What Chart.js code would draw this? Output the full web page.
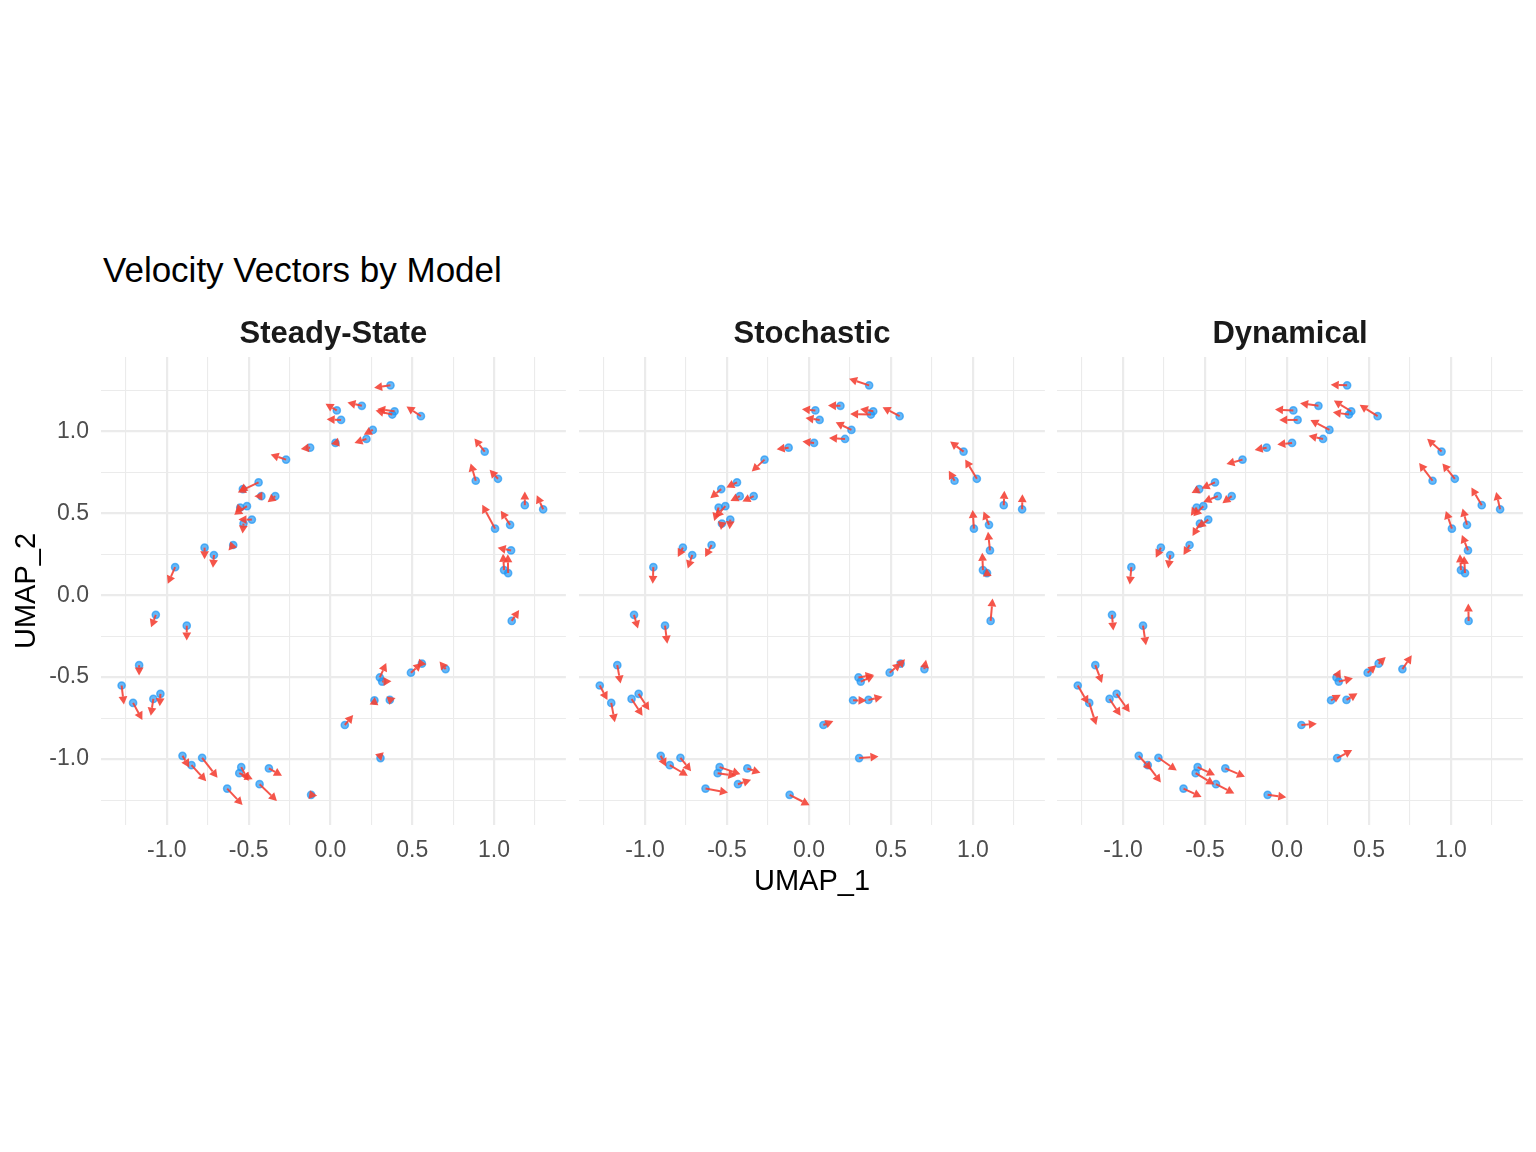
<!DOCTYPE html>
<html>
<head>
<meta charset="utf-8">
<script src="https://cdn.jsdelivr.net/npm/chart.js@4.4.1/dist/chart.umd.min.js"></script>
<style>
  body { margin: 0; background: #fff; width: 1536px; height: 1152px; position: relative; overflow: hidden;
         font-family: "Liberation Sans", Arial, Helvetica, sans-serif; }
  .panel { position: absolute; top: 300px; height: 602px; }
  #title { position: absolute; left: 103px; top: 249px; font-size: 35px; line-height: 42px; color: #000; white-space: nowrap; }
</style>
</head>
<body>
<div id="title">Velocity Vectors by Model</div>
<div class="panel" style="left:0px;width:571px"><canvas id="c0" width="571" height="602"></canvas></div>
<div class="panel" style="left:574px;width:476px"><canvas id="c1" width="476" height="602"></canvas></div>
<div class="panel" style="left:1052px;width:476px"><canvas id="c2" width="476" height="602"></canvas></div>
<script>
const FONT = '"Liberation Sans", Arial, Helvetica, sans-serif';

const models = ["Steady-State", "Stochastic", "Dynamical"];

// cell positions (same in every facet)
const umap1 = [0.367, 0.192, 0.039, 0.065, 0.392, 0.378, 0.553, 0.259, 0.220, 0.031, -0.124, -0.271, -0.439, -0.535, -0.422, -0.337, -0.510, -0.551, -0.480, -0.531, -0.594, -0.769, -0.712, -0.949, 0.943, 0.888, 1.024, 1.188, 1.300, 1.006, 1.098, 1.104, 1.061, 1.086,
  -1.067, -0.878, -1.169, -1.276, -1.206, -1.082, -1.039, -0.904, -0.849, -0.784, -0.545, -0.557, -0.376, -0.631, -0.433, -0.118, 1.108, 0.088, 0.269, 0.363, 0.306, 0.302, 0.316, 0.492, 0.559, 0.704];
const umap2 = [1.280, 1.155, 1.127, 1.069, 1.122, 1.102, 1.092, 1.008, 0.953, 0.929, 0.900, 0.827, 0.688, 0.647, 0.604, 0.604, 0.543, 0.535, 0.461, 0.437, 0.306, 0.290, 0.245, 0.171, 0.876, 0.698, 0.710, 0.549, 0.524, 0.406, 0.429, 0.273, 0.153, 0.135,
  -0.120, -0.186, -0.427, -0.551, -0.657, -0.633, -0.602, -0.980, -1.037, -0.992, -1.049, -1.086, -1.057, -1.180, -1.153, -1.218, -0.157, -0.792, -0.641, -0.639, -0.994, -0.502, -0.527, -0.473, -0.418, -0.451];

// velocity components per model
const ssDx = [-0.100, -0.088, -0.069, -0.088, -0.106, -0.102, -0.088, -0.055, -0.073, -0.027, -0.057, -0.094, -0.127, -0.022, -0.043, -0.047, -0.078, -0.031, -0.082, -0.006, -0.029, 0.000, -0.006, -0.045, -0.063, -0.031, -0.051, 0.000, -0.039, -0.078, -0.057, -0.082, -0.006, -0.002,
  -0.029, 0.000, 0.000, 0.014, 0.057, -0.016, -0.004, 0.041, 0.090, 0.094, 0.045, 0.082, 0.080, 0.094, 0.106, 0.037, 0.045, 0.051, 0.002, 0.035, 0.004, 0.039, 0.057, 0.065, 0.027, -0.037];
const ssDy = [-0.014, 0.020, 0.041, 0.004, 0.014, 0.024, 0.059, -0.029, -0.024, -0.006, -0.008, 0.031, -0.061, -0.014, 0.000, -0.037, -0.053, -0.031, 0.000, -0.061, -0.033, -0.071, -0.078, -0.102, 0.080, 0.106, 0.055, 0.084, 0.086, 0.145, 0.086, 0.016, 0.100, 0.114,
  -0.076, -0.090, -0.063, -0.116, -0.104, -0.102, -0.076, -0.071, -0.098, -0.122, -0.084, -0.037, -0.045, -0.100, -0.102, -0.006, 0.067, 0.061, 0.020, 0.012, -0.018, 0.088, 0.002, 0.059, -0.004, 0.047];
const stDx = [-0.122, -0.076, -0.082, -0.086, -0.080, -0.127, -0.104, -0.096, -0.098, -0.071, -0.073, -0.078, -0.065, -0.067, -0.057, -0.069, -0.061, -0.027, -0.004, -0.006, -0.039, -0.031, -0.027, -0.004, -0.082, -0.035, -0.071, 0.004, 0.002, -0.008, -0.033, -0.012, -0.004, -0.002,
  0.024, 0.014, 0.020, 0.047, 0.022, 0.067, 0.065, 0.033, 0.110, 0.065, 0.127, 0.114, 0.080, 0.137, 0.080, 0.122, 0.012, 0.061, 0.082, 0.086, 0.118, 0.092, 0.082, 0.069, 0.027, 0.010];
const stDy = [0.041, 0.002, 0.008, 0.012, 0.014, 0.004, 0.055, 0.047, 0.006, 0.008, -0.010, -0.073, -0.031, -0.055, -0.029, -0.033, -0.069, -0.082, -0.059, -0.039, -0.073, -0.057, -0.082, -0.102, 0.061, 0.061, 0.118, 0.088, 0.092, 0.114, 0.082, 0.114, 0.106, 0.029,
  -0.084, -0.110, -0.112, -0.088, -0.118, -0.102, -0.100, -0.065, -0.065, -0.082, -0.043, -0.016, -0.027, -0.024, 0.027, -0.063, 0.137, 0.024, -0.002, 0.020, 0.010, 0.016, 0.037, 0.059, 0.027, 0.057];
const dynDx = [-0.100, -0.112, -0.112, -0.112, -0.106, -0.098, -0.110, -0.116, -0.088, -0.090, -0.073, -0.098, -0.082, -0.047, -0.088, -0.057, -0.061, -0.035, -0.065, -0.045, -0.037, -0.031, -0.012, -0.010, -0.088, -0.082, -0.076, -0.063, -0.024, -0.037, -0.027, -0.037, -0.006, -0.006,
  0.008, 0.018, 0.041, 0.065, 0.043, 0.067, 0.080, 0.078, 0.080, 0.112, 0.106, 0.114, 0.120, 0.110, 0.112, 0.114, -0.002, 0.094, 0.059, 0.067, 0.092, 0.024, 0.086, 0.053, 0.043, 0.057];
const dynDy = [0.004, 0.016, 0.006, 0.000, 0.065, 0.014, 0.069, 0.061, 0.020, -0.010, -0.014, -0.027, -0.037, -0.024, -0.035, -0.043, -0.061, -0.051, -0.049, -0.076, -0.061, -0.061, -0.082, -0.106, 0.078, 0.108, 0.094, 0.108, 0.106, 0.108, 0.100, 0.094, 0.096, 0.104,
  -0.096, -0.120, -0.108, -0.112, -0.135, -0.102, -0.112, -0.086, -0.106, -0.078, -0.049, -0.069, -0.051, -0.051, -0.057, -0.014, 0.106, 0.008, 0.033, 0.041, 0.049, 0.049, 0.020, 0.045, 0.041, 0.084];

const gridTicks = [-1.25, -1, -0.75, -0.5, -0.25, 0, 0.25, 0.5, 0.75, 1, 1.25];
const xRange = [-1.402, 1.439];
const yRange = [-1.402, 1.453];

const velX = [ssDx, stDx, dynDx];
const velY = [ssDy, stDy, dynDy];

const isMajor = v => Math.abs(v * 2 - Math.round(v * 2)) < 1e-9;

// arrows drawn on top of the points, positioned with the chart's scales
const arrowPlugin = {
  id: "arrows",
  afterDatasetsDraw(chart, args, opts) {
    const { ctx } = chart;
    const xs = chart.scales.x, ys = chart.scales.y;
    const head = 8, half = 4.4;
    ctx.save();
    ctx.strokeStyle = opts.color;
    ctx.fillStyle = opts.color;
    ctx.lineWidth = 2;
    for (let i = 0; i < umap1.length; i++) {
      const x0 = xs.getPixelForValue(umap1[i]);
      const y0 = ys.getPixelForValue(umap2[i]);
      const x1 = xs.getPixelForValue(umap1[i] + opts.dx[i]);
      const y1 = ys.getPixelForValue(umap2[i] + opts.dy[i]);
      const a = Math.atan2(y1 - y0, x1 - x0);
      const len = Math.hypot(x1 - x0, y1 - y0);
      const bx = x1 - head * Math.cos(a), by = y1 - head * Math.sin(a);
      if (len > head) {
        ctx.beginPath();
        ctx.moveTo(x0, y0);
        ctx.lineTo(bx, by);
        ctx.stroke();
      }
      ctx.beginPath();
      ctx.moveTo(x1, y1);
      ctx.lineTo(bx + half * Math.sin(a), by - half * Math.cos(a));
      ctx.lineTo(bx - half * Math.sin(a), by + half * Math.cos(a));
      ctx.closePath();
      ctx.fill();
    }
    ctx.restore();
  }
};

function makePanel(idx) {
  const first = idx === 0;
  return new Chart(document.getElementById("c" + idx), {
    type: "scatter",
    data: {
      datasets: [{
        data: umap1.map((v, i) => ({ x: v, y: umap2[i] })),
        pointRadius: 3.6,
        pointBorderWidth: 1.5,
        pointBackgroundColor: "rgba(33,150,243,0.68)",
        pointBorderColor: "rgba(33,150,243,0.68)",
        pointHoverRadius: 3.6
      }]
    },
    options: {
      responsive: false,
      devicePixelRatio: 1,
      animation: false,
      layout: { padding: { left: 0, right: 4, top: 0, bottom: 0 } },
      plugins: {
        legend: { display: false },
        tooltip: { enabled: false },
        title: {
          display: true,
          text: models[idx],
          fullSize: false,
          color: "#1A1A1A",
          font: { family: FONT, size: 31, weight: "bold" },
          padding: { top: 16, bottom: 3.8 }
        },
        arrows: { dx: velX[idx], dy: velY[idx], color: "rgba(244,67,54,0.9)" }
      },
      scales: {
        x: {
          type: "linear",
          min: xRange[0],
          max: xRange[1],
          afterBuildTicks: s => { s.ticks = gridTicks.map(v => ({ value: v })); },
          afterFit: s => { s.height = 77; },
          border: { display: false },
          grid: {
            color: "#EBEBEB",
            lineWidth: c => (c.tick && isMajor(c.tick.value)) ? 2.2 : 1.1,
            drawTicks: false
          },
          ticks: {
            autoSkip: false,
            maxRotation: 0,
            padding: 12,
            color: "#4D4D4D",
            font: { family: FONT, size: 23 },
            callback: v => isMajor(v) ? v.toFixed(1) : ""
          },
          title: {
            display: idx === 1,
            text: "UMAP_1",
            color: "#000",
            font: { family: FONT, size: 29 },
            padding: { top: 0, bottom: 2.6 }
          }
        },
        y: {
          type: "linear",
          min: yRange[0],
          max: yRange[1],
          afterBuildTicks: s => { s.ticks = gridTicks.map(v => ({ value: v })); },
          afterFit: s => { s.width = first ? 101 : 0; },
          border: { display: false },
          grid: {
            color: "#EBEBEB",
            lineWidth: c => (c.tick && isMajor(c.tick.value)) ? 2.2 : 1.1,
            drawTicks: false
          },
          ticks: {
            display: first,
            autoSkip: false,
            padding: 12,
            color: "#4D4D4D",
            font: { family: FONT, size: 23 },
            callback: v => isMajor(v) ? v.toFixed(1) : ""
          },
          title: {
            display: first,
            text: "UMAP_2",
            color: "#000",
            font: { family: FONT, size: 29 },
            padding: { top: 10, bottom: 0 }
          }
        }
      }
    },
    plugins: [arrowPlugin]
  });
}

models.forEach((m, i) => makePanel(i));
</script>
</body>
</html>
